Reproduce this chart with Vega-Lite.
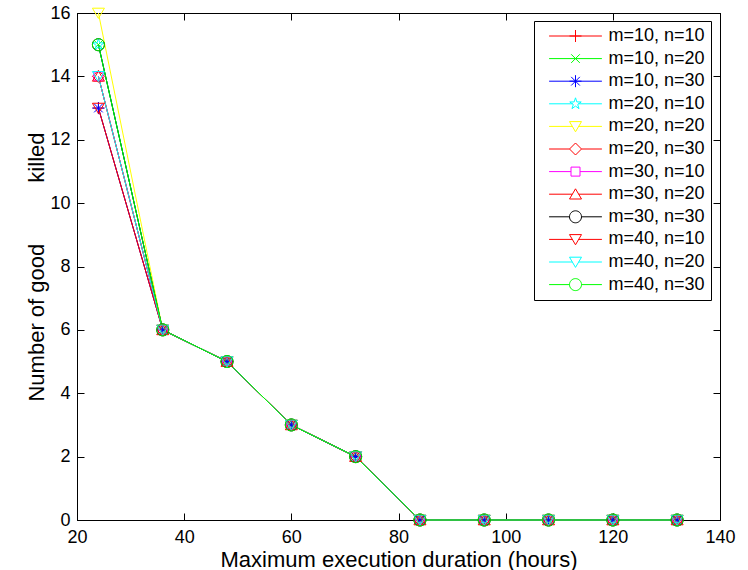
{
  "$schema": "https://vega.github.io/schema/vega-lite/v6.json",
  "width": 643,
  "height": 507,
  "autosize": {"type": "none"},
  "padding": {"left": 77, "top": 13, "right": 28, "bottom": 50},
  "background": "white",
  "config": {
    "view": {"stroke": "black", "strokeWidth": 1},
    "font": "Liberation Sans",
    "axis": {
      "grid": false,
      "domainColor": "black",
      "domainWidth": 1,
      "tickColor": "black",
      "tickWidth": 1,
      "tickSize": -7,
      "labelColor": "black",
      "labelFont": "Liberation Sans",
      "labelFontSize": 18,
      "labelFlush": false,
      "labelOverlap": false,
      "titleColor": "black",
      "titleFont": "Liberation Sans",
      "titleFontSize": 22,
      "titleFontWeight": "normal"
    },
    "legend": {
      "orient": "none",
      "legendX": 457,
      "legendY": 8,
      "strokeColor": "black",
      "fillColor": "white",
      "padding": 6,
      "labelFont": "Liberation Sans",
      "labelFontSize": 18,
      "labelColor": "black",
      "symbolSize": 144,
      "symbolStrokeWidth": 1,
      "symbolOpacity": 1,
      "symbolOffset": 26.5,
      "labelOffset": 24,
      "rowPadding": 4.6
    }
  },
  "data": {"values": [
    {"series": "m=10, n=10", "x": 24, "y": 13}, {"series": "m=10, n=10", "x": 36, "y": 6}, {"series": "m=10, n=10", "x": 48, "y": 5}, {"series": "m=10, n=10", "x": 60, "y": 3}, {"series": "m=10, n=10", "x": 72, "y": 2}, {"series": "m=10, n=10", "x": 84, "y": 0}, {"series": "m=10, n=10", "x": 96, "y": 0}, {"series": "m=10, n=10", "x": 108, "y": 0}, {"series": "m=10, n=10", "x": 120, "y": 0}, {"series": "m=10, n=10", "x": 132, "y": 0},
    {"series": "m=10, n=20", "x": 24, "y": 15}, {"series": "m=10, n=20", "x": 36, "y": 6}, {"series": "m=10, n=20", "x": 48, "y": 5}, {"series": "m=10, n=20", "x": 60, "y": 3}, {"series": "m=10, n=20", "x": 72, "y": 2}, {"series": "m=10, n=20", "x": 84, "y": 0}, {"series": "m=10, n=20", "x": 96, "y": 0}, {"series": "m=10, n=20", "x": 108, "y": 0}, {"series": "m=10, n=20", "x": 120, "y": 0}, {"series": "m=10, n=20", "x": 132, "y": 0},
    {"series": "m=10, n=30", "x": 24, "y": 13}, {"series": "m=10, n=30", "x": 36, "y": 6}, {"series": "m=10, n=30", "x": 48, "y": 5}, {"series": "m=10, n=30", "x": 60, "y": 3}, {"series": "m=10, n=30", "x": 72, "y": 2}, {"series": "m=10, n=30", "x": 84, "y": 0}, {"series": "m=10, n=30", "x": 96, "y": 0}, {"series": "m=10, n=30", "x": 108, "y": 0}, {"series": "m=10, n=30", "x": 120, "y": 0}, {"series": "m=10, n=30", "x": 132, "y": 0},
    {"series": "m=20, n=10", "x": 24, "y": 15}, {"series": "m=20, n=10", "x": 36, "y": 6}, {"series": "m=20, n=10", "x": 48, "y": 5}, {"series": "m=20, n=10", "x": 60, "y": 3}, {"series": "m=20, n=10", "x": 72, "y": 2}, {"series": "m=20, n=10", "x": 84, "y": 0}, {"series": "m=20, n=10", "x": 96, "y": 0}, {"series": "m=20, n=10", "x": 108, "y": 0}, {"series": "m=20, n=10", "x": 120, "y": 0}, {"series": "m=20, n=10", "x": 132, "y": 0},
    {"series": "m=20, n=20", "x": 24, "y": 16}, {"series": "m=20, n=20", "x": 36, "y": 6}, {"series": "m=20, n=20", "x": 48, "y": 5}, {"series": "m=20, n=20", "x": 60, "y": 3}, {"series": "m=20, n=20", "x": 72, "y": 2}, {"series": "m=20, n=20", "x": 84, "y": 0}, {"series": "m=20, n=20", "x": 96, "y": 0}, {"series": "m=20, n=20", "x": 108, "y": 0}, {"series": "m=20, n=20", "x": 120, "y": 0}, {"series": "m=20, n=20", "x": 132, "y": 0},
    {"series": "m=20, n=30", "x": 24, "y": 14}, {"series": "m=20, n=30", "x": 36, "y": 6}, {"series": "m=20, n=30", "x": 48, "y": 5}, {"series": "m=20, n=30", "x": 60, "y": 3}, {"series": "m=20, n=30", "x": 72, "y": 2}, {"series": "m=20, n=30", "x": 84, "y": 0}, {"series": "m=20, n=30", "x": 96, "y": 0}, {"series": "m=20, n=30", "x": 108, "y": 0}, {"series": "m=20, n=30", "x": 120, "y": 0}, {"series": "m=20, n=30", "x": 132, "y": 0},
    {"series": "m=30, n=10", "x": 24, "y": 14}, {"series": "m=30, n=10", "x": 36, "y": 6}, {"series": "m=30, n=10", "x": 48, "y": 5}, {"series": "m=30, n=10", "x": 60, "y": 3}, {"series": "m=30, n=10", "x": 72, "y": 2}, {"series": "m=30, n=10", "x": 84, "y": 0}, {"series": "m=30, n=10", "x": 96, "y": 0}, {"series": "m=30, n=10", "x": 108, "y": 0}, {"series": "m=30, n=10", "x": 120, "y": 0}, {"series": "m=30, n=10", "x": 132, "y": 0},
    {"series": "m=30, n=20", "x": 24, "y": 14}, {"series": "m=30, n=20", "x": 36, "y": 6}, {"series": "m=30, n=20", "x": 48, "y": 5}, {"series": "m=30, n=20", "x": 60, "y": 3}, {"series": "m=30, n=20", "x": 72, "y": 2}, {"series": "m=30, n=20", "x": 84, "y": 0}, {"series": "m=30, n=20", "x": 96, "y": 0}, {"series": "m=30, n=20", "x": 108, "y": 0}, {"series": "m=30, n=20", "x": 120, "y": 0}, {"series": "m=30, n=20", "x": 132, "y": 0},
    {"series": "m=30, n=30", "x": 24, "y": 15}, {"series": "m=30, n=30", "x": 36, "y": 6}, {"series": "m=30, n=30", "x": 48, "y": 5}, {"series": "m=30, n=30", "x": 60, "y": 3}, {"series": "m=30, n=30", "x": 72, "y": 2}, {"series": "m=30, n=30", "x": 84, "y": 0}, {"series": "m=30, n=30", "x": 96, "y": 0}, {"series": "m=30, n=30", "x": 108, "y": 0}, {"series": "m=30, n=30", "x": 120, "y": 0}, {"series": "m=30, n=30", "x": 132, "y": 0},
    {"series": "m=40, n=10", "x": 24, "y": 13}, {"series": "m=40, n=10", "x": 36, "y": 6}, {"series": "m=40, n=10", "x": 48, "y": 5}, {"series": "m=40, n=10", "x": 60, "y": 3}, {"series": "m=40, n=10", "x": 72, "y": 2}, {"series": "m=40, n=10", "x": 84, "y": 0}, {"series": "m=40, n=10", "x": 96, "y": 0}, {"series": "m=40, n=10", "x": 108, "y": 0}, {"series": "m=40, n=10", "x": 120, "y": 0}, {"series": "m=40, n=10", "x": 132, "y": 0},
    {"series": "m=40, n=20", "x": 24, "y": 14}, {"series": "m=40, n=20", "x": 36, "y": 6}, {"series": "m=40, n=20", "x": 48, "y": 5}, {"series": "m=40, n=20", "x": 60, "y": 3}, {"series": "m=40, n=20", "x": 72, "y": 2}, {"series": "m=40, n=20", "x": 84, "y": 0}, {"series": "m=40, n=20", "x": 96, "y": 0}, {"series": "m=40, n=20", "x": 108, "y": 0}, {"series": "m=40, n=20", "x": 120, "y": 0}, {"series": "m=40, n=20", "x": 132, "y": 0},
    {"series": "m=40, n=30", "x": 24, "y": 15}, {"series": "m=40, n=30", "x": 36, "y": 6}, {"series": "m=40, n=30", "x": 48, "y": 5}, {"series": "m=40, n=30", "x": 60, "y": 3}, {"series": "m=40, n=30", "x": 72, "y": 2}, {"series": "m=40, n=30", "x": 84, "y": 0}, {"series": "m=40, n=30", "x": 96, "y": 0}, {"series": "m=40, n=30", "x": 108, "y": 0}, {"series": "m=40, n=30", "x": 120, "y": 0}, {"series": "m=40, n=30", "x": 132, "y": 0}
  ]},
  "resolve": {
    "scale": {"color": "independent", "shape": "independent"},
    "axis": {"x": "independent", "y": "independent"},
    "legend": {"color": "independent", "shape": "independent"}
  },
  "layer": [
    {
      "mark": {"type": "line", "strokeWidth": 1},
      "encoding": {
        "x": {"field": "x", "type": "quantitative", "scale": {"domain": [20, 140], "nice": false, "zero": false},
              "axis": {"orient": "bottom", "values": [20, 40, 60, 80, 100, 120, 140], "title": "Maximum execution duration (hours)", "labelPadding": 15, "titlePadding": 3}},
        "y": {"field": "y", "type": "quantitative", "scale": {"domain": [0, 16], "nice": false, "zero": false},
              "axis": {"orient": "left", "values": [0, 2, 4, 6, 8, 10, 12, 14, 16], "title": "Number of good\u00a0\u00a0\u00a0\u00a0\u00a0\u00a0\u00a0\u00a0\u00a0\u00a0killed", "labelPadding": 14, "titlePadding": 1}},
        "color": {"field": "series", "type": "nominal", "legend": null,
          "scale": {"domain": ["m=10, n=10", "m=10, n=20", "m=10, n=30", "m=20, n=10", "m=20, n=20", "m=20, n=30", "m=30, n=10", "m=30, n=20", "m=30, n=30", "m=40, n=10", "m=40, n=20", "m=40, n=30"],
                    "range": ["#ff0000", "#00ff00", "#0000ff", "#00ffff", "#ffff00", "#ff0000", "#ff00ff", "#ff0000", "#000000", "#ff0000", "#00ffff", "#00ff00"]}}
      }
    },
    {
      "mark": {"type": "point", "filled": false, "size": 144, "strokeWidth": 1, "opacity": 1},
      "encoding": {
        "x": {"field": "x", "type": "quantitative", "axis": {"orient": "top", "values": [20, 40, 60, 80, 100, 120, 140], "labels": false, "title": null}},
        "y": {"field": "y", "type": "quantitative", "axis": {"orient": "right", "values": [0, 2, 4, 6, 8, 10, 12, 14, 16], "labels": false, "title": null}},
        "color": {"field": "series", "type": "nominal", "legend": null,
          "scale": {"domain": ["m=10, n=10", "m=10, n=20", "m=10, n=30", "m=20, n=10", "m=20, n=20", "m=20, n=30", "m=30, n=10", "m=30, n=20", "m=30, n=30", "m=40, n=10", "m=40, n=20", "m=40, n=30"],
                    "range": ["#ff0000", "#00ff00", "#0000ff", "#00ffff", "#ffff00", "#ff0000", "#ff00ff", "#ff0000", "#000000", "#ff0000", "#00ffff", "#00ff00"]}},
        "shape": {"field": "series", "type": "nominal", "legend": null,
          "scale": {"domain": ["m=10, n=10", "m=10, n=20", "m=10, n=30", "m=20, n=10", "m=20, n=20", "m=20, n=30", "m=30, n=10", "m=30, n=20", "m=30, n=30", "m=40, n=10", "m=40, n=20", "m=40, n=30"],
                    "range": [
                      "M-1,0H1M0,-1V1",
                      "M-0.72,-0.72L0.72,0.72M0.72,-0.72L-0.72,0.72",
                      "M-1,0H1M0,-1V1M-0.72,-0.72L0.72,0.72M0.72,-0.72L-0.72,0.72",
                      "M0,-1L0.2245,-0.309L0.951,-0.309L0.363,0.118L0.588,0.809L0,0.382L-0.588,0.809L-0.363,0.118L-0.951,-0.309L-0.2245,-0.309Z",
                      "M-1,-0.8L1,-0.8L0,0.9Z",
                      "M0,-1L1,0L0,1L-1,0Z",
                      "M-0.75,-0.75H0.75V0.75H-0.75Z",
                      "M-1,0.8L1,0.8L0,-0.9Z",
                      "M-1,0A1,1 0 1,0 1,0A1,1 0 1,0 -1,0",
                      "M-1,-0.8L1,-0.8L0,0.9Z",
                      "M-1,-0.8L1,-0.8L0,0.9Z",
                      "M-1,0A1,1 0 1,0 1,0A1,1 0 1,0 -1,0"
                    ]}}
      }
    },
    {
      "mark": {"type": "point", "filled": false, "size": 144, "strokeWidth": 1, "opacity": 0},
      "encoding": {
        "x": {"field": "x", "type": "quantitative", "axis": null},
        "y": {"field": "y", "type": "quantitative", "axis": null},
        "color": {"field": "series", "type": "nominal", "legend": {"title": null},
          "scale": {"domain": ["m=10, n=10", "m=10, n=20", "m=10, n=30", "m=20, n=10", "m=20, n=20", "m=20, n=30", "m=30, n=10", "m=30, n=20", "m=30, n=30", "m=40, n=10", "m=40, n=20", "m=40, n=30"],
                    "range": ["#ff0000", "#00ff00", "#0000ff", "#00ffff", "#ffff00", "#ff0000", "#ff00ff", "#ff0000", "#000000", "#ff0000", "#00ffff", "#00ff00"]}},
        "shape": {"field": "series", "type": "nominal", "legend": {"title": null},
          "scale": {"domain": ["m=10, n=10", "m=10, n=20", "m=10, n=30", "m=20, n=10", "m=20, n=20", "m=20, n=30", "m=30, n=10", "m=30, n=20", "m=30, n=30", "m=40, n=10", "m=40, n=20", "m=40, n=30"],
                    "range": [
                      "M-4.4,0H4.4M-1,0H1M0,-1V1",
                      "M-4.4,0H4.4M-0.72,-0.72L0.72,0.72M0.72,-0.72L-0.72,0.72",
                      "M-4.4,0H4.4M-1,0H1M0,-1V1M-0.72,-0.72L0.72,0.72M0.72,-0.72L-0.72,0.72",
                      "M-4.4,0H-0.45M0.45,0H4.4M0,-1L0.2245,-0.309L0.951,-0.309L0.363,0.118L0.588,0.809L0,0.382L-0.588,0.809L-0.363,0.118L-0.951,-0.309L-0.2245,-0.309Z",
                      "M-4.4,0H-0.53M0.53,0H4.4M-1,-0.8L1,-0.8L0,0.9Z",
                      "M-4.4,0H-1M1,0H4.4M0,-1L1,0L0,1L-1,0Z",
                      "M-4.4,0H-0.75M0.75,0H4.4M-0.75,-0.75H0.75V0.75H-0.75Z",
                      "M-4.4,0H-0.53M0.53,0H4.4M-1,0.8L1,0.8L0,-0.9Z",
                      "M-4.4,0H-1M1,0H4.4M-1,0A1,1 0 1,0 1,0A1,1 0 1,0 -1,0",
                      "M-4.4,0H-0.53M0.53,0H4.4M-1,-0.8L1,-0.8L0,0.9Z",
                      "M-4.4,0H-0.53M0.53,0H4.4M-1,-0.8L1,-0.8L0,0.9Z",
                      "M-4.4,0H-1M1,0H4.4M-1,0A1,1 0 1,0 1,0A1,1 0 1,0 -1,0"
                    ]}}
      }
    }
  ]
}
